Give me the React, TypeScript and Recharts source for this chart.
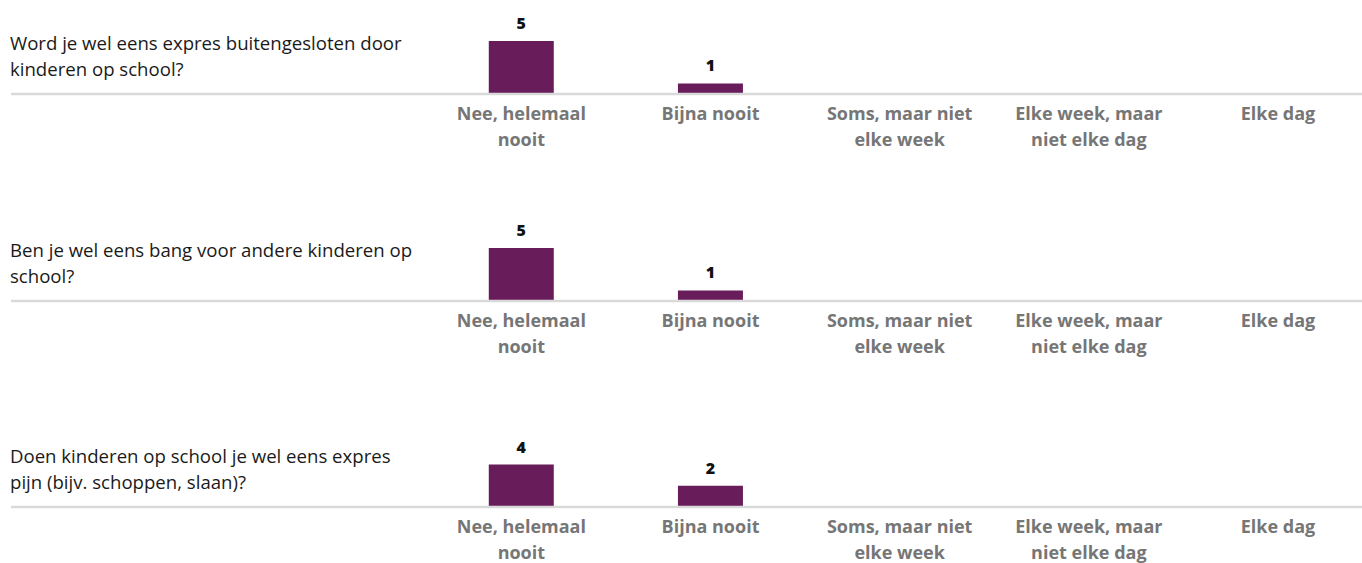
import { BarChart, Bar, XAxis, YAxis, LabelList } from "recharts";

// antwoordcategorieën (x-as)
const categories = [
  "Nee, helemaal\nnooit",
  "Bijna nooit",
  "Soms, maar niet\nelke week",
  "Elke week, maar\nniet elke dag",
  "Elke dag",
];

const questions = [
  "Word je wel eens expres buitengesloten door\nkinderen op school?",
  "Ben je wel eens bang voor andere kinderen op\nschool?",
  "Doen kinderen op school je wel eens expres\npijn (bijv. schoppen, slaan)?",
];

const counts1 = [5, 1, 0, 0, 0];
const counts2 = [5, 1, 0, 0, 0];
const counts3 = [4, 2, 0, 0, 0];

const allCounts = [counts1, counts2, counts3];

const BAR_COLOR = "#681d5a";
const FONT = "'Open Sans', Lato, sans-serif";

function CategoryTick(props: any) {
  const { x, y, payload } = props;
  const lines = String(categories[payload.value] ?? "").split("\n");
  return (
    <text
      x={x}
      y={y}
      textAnchor="middle"
      fill="#767676"
      fontFamily={FONT}
      fontWeight={700}
      fontSize={18}
    >
      {lines.map((l, i) => (
        <tspan key={i} x={x} dy={i === 0 ? 18 : 26}>
          {l}
        </tspan>
      ))}
    </text>
  );
}

function Panel({ counts, question, top }: { counts: number[]; question: string; top: number }) {
  const data = counts.map((v, i) => ({ idx: i, value: v }));
  return (
    <div style={{ position: "absolute", left: 0, top, width: 1362, height: 207 }}>
      <div
        style={{
          position: "absolute",
          left: 10,
          top: 30,
          fontFamily: FONT,
          fontSize: 18.6,
          lineHeight: "26px",
          color: "#1a1a1a",
          whiteSpace: "pre",
        }}
      >
        {question}
      </div>
      <BarChart
        width={1362}
        height={207}
        data={data}
        margin={{ top: 41, right: 0, left: 11, bottom: 83 }}
      >
        <XAxis
          dataKey="idx"
          type="number"
          domain={[-2.698, 4.444]}
          ticks={[0, 1, 2, 3, 4]}
          interval={0}
          tickLine={false}
          axisLine={{ stroke: "#d9d9d9", strokeWidth: 2.5 }}
          tick={<CategoryTick />}
          height={30}
          allowDataOverflow
        />
        <YAxis hide domain={[0, 5]} allowDataOverflow />
        <Bar dataKey="value" fill={BAR_COLOR} barSize={65} isAnimationActive={false}>
          <LabelList
            dataKey="value"
            position="top"
            offset={12}
            formatter={(v: any) => (Number(v) > 0 ? v : "")}
            fill="#111"
            fontFamily={FONT}
            fontWeight={800}
            fontSize={16}
          />
        </Bar>
      </BarChart>
    </div>
  );
}

export default function App() {
  return (
    <div style={{ position: "relative", width: 1362, height: 563, overflow: "hidden", background: "#fff" }}>
      <style>{`body{margin:0;overflow:hidden}`}</style>
      {allCounts.map((c, i) => (
        <Panel key={i} counts={c} question={questions[i]} top={i * 206.5} />
      ))}
    </div>
  );
}
